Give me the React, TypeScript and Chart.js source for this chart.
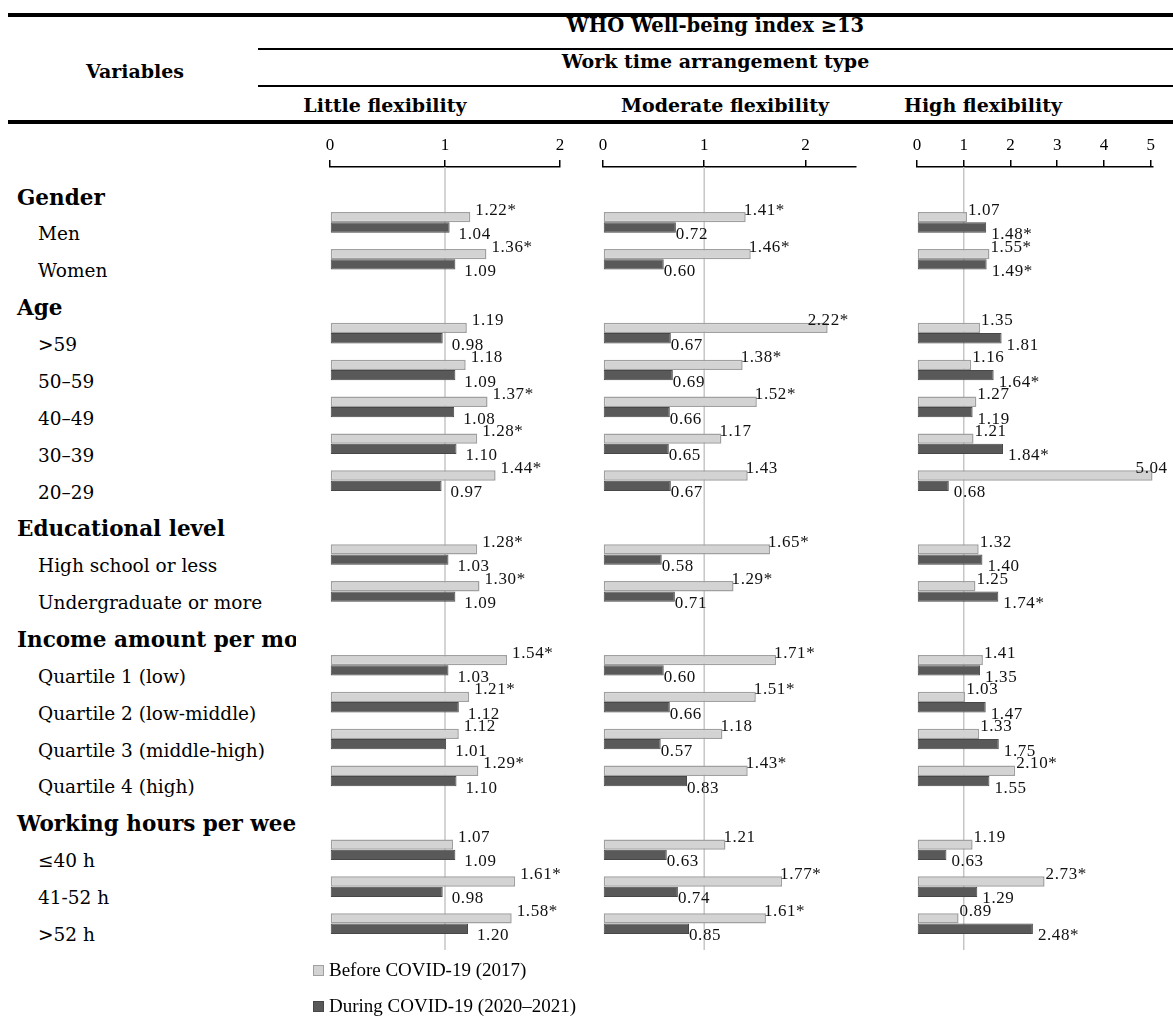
import React, { useEffect, useRef } from "react";
import { Chart, registerables } from "chart.js";

Chart.register(...registerables);

// ---------- data ----------
const categories = [
  "Gender", "Men", "Women",
  "Age", ">59", "50–59", "40–49", "30–39", "20–29",
  "Educational level", "High school or less", "Undergraduate or more",
  "Income amount per month", "Quartile 1 (low)", "Quartile 2 (low-middle)", "Quartile 3 (middle-high)", "Quartile 4 (high)",
  "Working hours per week", "≤40 h", "41-52 h", ">52 h",
];
const isGroupHeader = [1, 0, 0, 1, 0, 0, 0, 0, 0, 1, 0, 0, 1, 0, 0, 0, 0, 1, 0, 0, 0];

const legendLabels = ["Before COVID-19 (2017)", "During COVID-19 (2020–2021)"];
const panelTitles = ["Little flexibility", "Moderate flexibility", "High flexibility"];

const N = null;
const littleBefore = [N, 1.22, 1.36, N, 1.19, 1.18, 1.37, 1.28, 1.44, N, 1.28, 1.30, N, 1.54, 1.21, 1.12, 1.29, N, 1.07, 1.61, 1.58];
const littleBeforeSig = [0, 1, 1, 0, 0, 0, 1, 1, 1, 0, 1, 1, 0, 1, 1, 0, 1, 0, 0, 1, 1];
const littleDuring = [N, 1.04, 1.09, N, 0.98, 1.09, 1.08, 1.10, 0.97, N, 1.03, 1.09, N, 1.03, 1.12, 1.01, 1.10, N, 1.09, 0.98, 1.20];
const littleDuringSig = [0, 0, 0, 0, 0, 0, 0, 0, 0, 0, 0, 0, 0, 0, 0, 0, 0, 0, 0, 0, 0];

const moderateBefore = [N, 1.41, 1.46, N, 2.22, 1.38, 1.52, 1.17, 1.43, N, 1.65, 1.29, N, 1.71, 1.51, 1.18, 1.43, N, 1.21, 1.77, 1.61];
const moderateBeforeSig = [0, 1, 1, 0, 1, 1, 1, 0, 0, 0, 1, 1, 0, 1, 1, 0, 1, 0, 0, 1, 1];
const moderateDuring = [N, 0.72, 0.60, N, 0.67, 0.69, 0.66, 0.65, 0.67, N, 0.58, 0.71, N, 0.60, 0.66, 0.57, 0.83, N, 0.63, 0.74, 0.85];
const moderateDuringSig = [0, 0, 0, 0, 0, 0, 0, 0, 0, 0, 0, 0, 0, 0, 0, 0, 0, 0, 0, 0, 0];

const highBefore = [N, 1.07, 1.55, N, 1.35, 1.16, 1.27, 1.21, 5.04, N, 1.32, 1.25, N, 1.41, 1.03, 1.33, 2.10, N, 1.19, 2.73, 0.89];
const highBeforeSig = [0, 0, 1, 0, 0, 0, 0, 0, 0, 0, 0, 0, 0, 0, 0, 0, 1, 0, 0, 1, 0];
const highDuring = [N, 1.48, 1.49, N, 1.81, 1.64, 1.19, 1.84, 0.68, N, 1.40, 1.74, N, 1.35, 1.47, 1.75, 1.55, N, 0.63, 1.29, 2.48];
const highDuringSig = [0, 1, 1, 0, 0, 1, 0, 1, 0, 0, 0, 1, 0, 0, 0, 0, 0, 0, 0, 0, 1];

const axisMax = [2, 2.5, 5.05];

// ---------- style ----------
const LIGHT = "#d3d3d3";
const LIGHT_BORDER = "#a0a0a0";
const DARK = "#595959";
const DARK_BORDER = "#474747";
const SERIF_A = "'DejaVu Serif', serif";
const SERIF_B = "'Liberation Serif', 'Times New Roman', serif";

const CANVAS_TOP = 127;
const CANVAS_H = 835;
const AXIS_H = 40;

const panels = [
  { before: littleBefore, beforeSig: littleBeforeSig, during: littleDuring, duringSig: littleDuringSig, max: axisMax[0], left: 310, width: 270, offB: 5, offD: 9 },
  { before: moderateBefore, beforeSig: moderateBeforeSig, during: moderateDuring, duringSig: moderateDuringSig, max: axisMax[1], left: 583, width: 293, offB: -2, offD: 0 },
  { before: highBefore, beforeSig: highBeforeSig, during: highDuring, duringSig: highDuringSig, max: axisMax[2], left: 897, width: 276, offB: 1, offD: 5 },
];

const refLine = {
  id: "refLine",
  beforeDatasetsDraw(chart: any) {
    const ctx = chart.ctx;
    const x = chart.scales.x.getPixelForValue(1);
    const { top, bottom } = chart.chartArea;
    ctx.save();
    ctx.strokeStyle = "#c6c6c6";
    ctx.lineWidth = 1.5;
    ctx.beginPath();
    ctx.moveTo(x, top);
    ctx.lineTo(x, bottom + 8);
    ctx.stroke();
    ctx.restore();
  },
};

function makeValueLabels(p: any) {
  return {
    id: "valueLabels",
    afterDatasetsDraw(chart: any) {
      const ctx = chart.ctx;
      ctx.save();
      ctx.font = `17px ${SERIF_B}`;
      ctx.fillStyle = "#111";
      ctx.textAlign = "left";
      ctx.textBaseline = "middle";
      try { (ctx as any).letterSpacing = "0.6px"; } catch (e) {}
      const sets = [
        { vals: p.before, sig: p.beforeSig, dx: p.offB, dy: -7 },
        { vals: p.during, sig: p.duringSig, dx: p.offD, dy: 7 },
      ];
      sets.forEach((s, di) => {
        const meta = chart.getDatasetMeta(di);
        meta.data.forEach((el: any, i: number) => {
          const v = s.vals[i];
          if (v === null || v === undefined) return;
          const txt = v.toFixed(2) + (s.sig[i] ? "*" : "");
          // labels near the end of the axis are pulled back over the bar
          const nudge = v / p.max > 0.85 ? -18 : 0;
          ctx.fillText(txt, el.x + s.dx + nudge, el.y + s.dy);
        });
      });
      ctx.restore();
    },
  };
}

function Panel({ p }: { p: any }) {
  const ref = useRef<HTMLCanvasElement | null>(null);
  useEffect(() => {
    if (!ref.current) return;
    const chart = new Chart(ref.current, {
      type: "bar",
      data: {
        labels: categories,
        datasets: [
          { label: legendLabels[0], data: p.before, backgroundColor: LIGHT, borderColor: LIGHT_BORDER, borderWidth: 1.5, borderSkipped: false },
          { label: legendLabels[1], data: p.during, backgroundColor: DARK, borderColor: DARK_BORDER, borderWidth: 1, borderSkipped: false },
        ],
      },
      options: {
        indexAxis: "y",
        animation: false,
        responsive: false,
        maintainAspectRatio: false,
        layout: { padding: { left: 20, right: 20, top: 0, bottom: CANVAS_H - AXIS_H - 775 } },
        datasets: { bar: { categoryPercentage: 0.56, barPercentage: 1 } },
        plugins: { legend: { display: false }, tooltip: { enabled: false } },
        scales: {
          x: {
            type: "linear",
            position: "top",
            min: 0,
            max: p.max,
            afterFit: (s: any) => { s.height = AXIS_H; },
            ticks: {
              stepSize: 1,
              includeBounds: false,
              color: "#000",
              font: { family: "'Liberation Serif', serif", size: 17 },
              padding: 4,
              maxRotation: 0,
            },
            grid: { drawOnChartArea: false, drawTicks: true, tickLength: 7, color: "#000", lineWidth: 1.5 },
            border: { display: true, color: "#000", width: 1.5 },
          },
          y: { type: "category", display: false },
        },
      } as any,
      plugins: [refLine, makeValueLabels(p)],
    });
    return () => chart.destroy();
  }, []);
  return (
    <canvas
      ref={ref}
      width={p.width}
      height={CANVAS_H}
      style={{ position: "absolute", left: p.left, top: CANVAS_TOP, width: p.width, height: CANVAS_H }}
    />
  );
}

const ROW_H = 36.87;
const LABEL_TOP = 198 - ROW_H / 2;

export default function App() {
  const hdr: React.CSSProperties = { position: "absolute", fontFamily: SERIF_A, fontWeight: "bold", fontSize: 19, lineHeight: "19px", whiteSpace: "nowrap", color: "#000" };
  return (
    <div style={{ position: "relative", width: 1173, height: 1021, overflow: "hidden", background: "#fff" }}>
      <style>{`body{margin:0;}`}</style>
      {/* table rules */}
      <div style={{ position: "absolute", left: 8, top: 13, width: 1165, height: 4, background: "#000" }} />
      <div style={{ position: "absolute", left: 258, top: 47.5, width: 915, height: 2.5, background: "#000" }} />
      <div style={{ position: "absolute", left: 258, top: 84.5, width: 915, height: 2.5, background: "#000" }} />
      <div style={{ position: "absolute", left: 8, top: 119.5, width: 1165, height: 4, background: "#000" }} />
      {/* header texts */}
      <div style={{ ...hdr, left: 0, width: 270, top: 62, textAlign: "center" }}>Variables</div>
      <div style={{ ...hdr, left: 258, width: 915, top: 16, textAlign: "center", fontSize: 19.5 }}>WHO Well-being index ≥13</div>
      <div style={{ ...hdr, left: 258, width: 915, top: 52, textAlign: "center" }}>Work time arrangement type</div>
      <div style={{ ...hdr, left: 285, width: 200, top: 96, textAlign: "center" }}>{panelTitles[0]}</div>
      <div style={{ ...hdr, left: 621, width: 200, top: 96, textAlign: "center" }}>{panelTitles[1]}</div>
      <div style={{ ...hdr, left: 883, width: 200, top: 96, textAlign: "center" }}>{panelTitles[2]}</div>

      {/* row labels */}
      <div style={{ position: "absolute", left: 0, top: 0, width: 296, height: 1021, overflow: "hidden" }}>
        {categories.map((c, i) => (
          <div
            key={i}
            style={{
              position: "absolute",
              left: isGroupHeader[i] ? 17 : 38,
              top: LABEL_TOP + i * ROW_H,
              height: ROW_H,
              lineHeight: `${ROW_H}px`,
              whiteSpace: "nowrap",
              fontFamily: SERIF_A,
              fontWeight: isGroupHeader[i] ? "bold" : "normal",
              fontSize: isGroupHeader[i] ? 21.5 : 18.5,
              color: "#000",
            }}
          >
            {c}
          </div>
        ))}
      </div>

      {panels.map((p, i) => (
        <Panel key={i} p={p} />
      ))}

      {/* legend */}
      {legendLabels.map((l, i) => (
        <div key={l} style={{ position: "absolute", left: 313, top: (i === 0 ? 970 : 1006) - 12, height: 24, display: "flex", alignItems: "center", fontFamily: SERIF_B, fontSize: 19, whiteSpace: "nowrap" }}>
          <span style={{ display: "inline-block", width: 9, height: 9, background: i === 0 ? LIGHT : DARK, border: `1px solid ${i === 0 ? LIGHT_BORDER : DARK_BORDER}`, marginRight: 5 }} />
          {l}
        </div>
      ))}
    </div>
  );
}
